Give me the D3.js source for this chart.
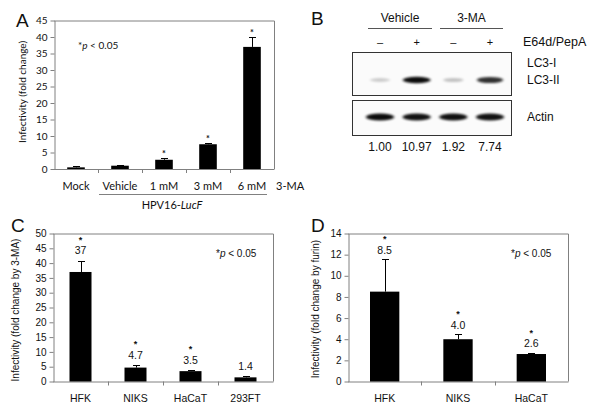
<!DOCTYPE html>
<html>
<head>
<meta charset="utf-8">
<title>infectivity</title>
<style>
  body { margin: 0; background: #fff; }
  svg text { fill: #111; }
  .ax path, .ax line { stroke: #808080; }
  .frame { fill: none; stroke: #808080; stroke-width: 1; }
  .bar { fill: #000; }
  .err { stroke: #000; stroke-width: 1; fill: none; }
</style>
</head>
<body>
<svg id="fig" width="600" height="411"></svg>
<script src="https://cdn.jsdelivr.net/npm/d3@7"></script>
<script>
// ---- panel A data
var catsA = ['Mock', 'Vehicle', '1 mM', '3 mM', '6 mM'];
var valsA = [0.5, 1.0, 2.8, 7.5, 37.0];
var errA = [0.3, 0.2, 0.6, 0.3, 3.0];
var starA = [false, false, true, true, true];
var ticksA = [0, 5, 10, 15, 20, 25, 30, 35, 40, 45];

// ---- panel B data
var lanesB = ['veh-', 'veh+', 'ma-', 'ma+'];
var signsB = ['\u2013', '+', '\u2013', '+'];
var lc3B = [0.18, 0.95, 0.22, 0.8];
var actinB = [0.95, 0.92, 0.93, 0.92];
var ratioB = ['1.00', '10.97', '1.92', '7.74'];

// ---- panel C data
var catsC = ['HFK', 'NIKS', 'HaCaT', '293FT'];
var valsC = [37, 4.7, 3.5, 1.4];
var errC = [3.8, 0.8, 0.4, 0.4];
var labC = ['37', '4.7', '3.5', '1.4'];
var starC = [true, true, true, false];
var ticksC = [0, 5, 10, 15, 20, 25, 30, 35, 40, 45, 50];

// ---- panel D data
var catsD = ['HFK', 'NIKS', 'HaCaT'];
var valsD = [8.5, 4.0, 2.6];
var errD = [3.1, 0.5, 0.12];
var labD = ['8.5', '4.0', '2.6'];
var starD = [true, true, true];
var ticksD = [0, 2, 4, 6, 8, 10, 12, 14];

var svg = d3.select('#fig');

function barPanel(o) {
    var g = svg.append('g').style('font-family', o.font);
    var y = d3.scaleLinear().domain([0, o.max]).range([o.bottom, o.top]);
    var x = d3.scaleBand().domain(o.cats).range([o.left, o.right])
        .paddingInner(o.pad).paddingOuter(o.pad / 2);
    var rows = o.cats.map(function(c, i) {
        return {c: c, v: o.vals[i], e: o.errs[i], s: o.stars[i], l: o.labels ? o.labels[i] : null};
    });

    // frame (top + right)
    g.append('path').attr('class', 'frame')
        .attr('d', 'M' + o.left + ',' + (o.top + 0.5) + 'H' + (o.right + 0.5) + 'V' + o.bottom);

    // y axis
    g.append('g').attr('class', 'ax')
        .attr('transform', 'translate(' + (o.left + 0.5) + ',0)')
        .call(d3.axisLeft(y).tickValues(o.ticks).tickSize(4).tickSizeOuter(0).tickPadding(3))
        .selectAll('text').style('font-size', o.tickSize + 'px').style('font-family', o.font).attr('fill', '#111');

    // x axis baseline + separators
    g.append('line').attr('class', 'ax')
        .attr('x1', o.left).attr('x2', o.right + 0.5)
        .attr('y1', o.bottom + 0.5).attr('y2', o.bottom + 0.5).attr('stroke', '#808080');
    var seps = d3.range(1, o.cats.length).map(function(i) { return x.range()[0] + i * x.step(); });
    g.selectAll('.sep').data(seps).enter().append('line')
        .attr('x1', function(d) { return Math.round(d) + 0.5; })
        .attr('x2', function(d) { return Math.round(d) + 0.5; })
        .attr('y1', o.bottom).attr('y2', o.bottom + 4).attr('stroke', '#808080');

    // bars
    g.selectAll('.bar').data(rows).enter().append('rect').attr('class', 'bar')
        .attr('x', function(d) { return x(d.c); })
        .attr('width', x.bandwidth())
        .attr('y', function(d) { return y(d.v); })
        .attr('height', function(d) { return o.bottom - y(d.v); });

    // error bars (upper only)
    g.selectAll('.err').data(rows).enter().append('path').attr('class', 'err')
        .attr('d', function(d) {
            var cx = Math.round(x(d.c) + x.bandwidth() / 2) + 0.5;
            var t = Math.round(y(d.v + d.e)) + 0.5;
            return 'M' + cx + ',' + y(d.v) + 'V' + t + 'M' + (cx - 3.5) + ',' + t + 'H' + (cx + 3.5);
        });

    // value labels and stars
    rows.forEach(function(d) {
        var cx = x(d.c) + x.bandwidth() / 2;
        var t = y(d.v + d.e);
        var ly = t - o.labGap;
        if (d.l) {
            g.append('text').attr('x', cx).attr('y', ly).attr('dy', '0.35em')
                .attr('text-anchor', 'middle').style('font-size', o.labSize + 'px').text(d.l);
        }
        if (d.s) {
            g.append('text').attr('x', cx).attr('y', d.l ? ly - 8 : t - 1)
                .attr('text-anchor', 'middle').style('font-weight', 'bold')
                .style('font-size', '9px').text('*');
        }
    });

    // category labels
    g.selectAll('.cat').data(o.cats).enter().append('text')
        .attr('x', function(d) { return x(d) + x.bandwidth() / 2; })
        .attr('y', o.catY).attr('dy', '0.35em').attr('text-anchor', 'middle')
        .style('font-size', o.catSize + 'px').text(function(d) { return d; });

    // y title
    g.append('text')
        .attr('transform', 'translate(' + o.titleX + ',' + o.titleY + ') rotate(-90)')
        .attr('text-anchor', 'middle').attr('dy', '0.35em')
        .style('font-size', o.titleSize + 'px').text(o.title);

    // significance note
    var note = g.append('text').attr('x', o.noteX).attr('y', o.noteY).attr('dy', '0.35em')
        .style('font-size', o.noteSize + 'px');
    note.append('tspan').text('*');
    note.append('tspan').style('font-style', 'italic').text('p');
    note.append('tspan').text(' < 0.05');

    // panel letter
    g.append('text').attr('x', o.letterX).attr('y', o.letterY)
        .style('font-size', '19px').style('font-family', 'Liberation Sans, Arial, sans-serif')
        .text(o.letter);
    return {g: g, x: x, y: y};
}

// ---- A
var pa = barPanel({
    font: 'Lato, "Open Sans", sans-serif', cats: catsA, vals: valsA, errs: errA, stars: starA,
    labels: null, ticks: ticksA, max: 45, left: 54, right: 274, top: 20.5, bottom: 169,
    pad: 0.6, tickSize: 10, labSize: 9, labGap: 0, catSize: 11, catY: 186,
    title: 'Infectivity (fold change)', titleX: 22, titleY: 92, titleSize: 10,
    noteX: 78, noteY: 45, noteSize: 10, letter: 'A', letterX: 16, letterY: 27
});
pa.g.append('line').attr('x1', 99).attr('x2', 267).attr('y1', 194.5).attr('y2', 194.5)
    .attr('stroke', '#808080');
var hpv = pa.g.append('text').attr('x', 172).attr('y', 205).attr('dy', '0.35em')
    .attr('text-anchor', 'middle').style('font-size', '11px');
hpv.append('tspan').text('HPV16-');
hpv.append('tspan').style('font-style', 'italic').text('LucF');
pa.g.append('text').attr('x', 276).attr('y', 186).attr('dy', '0.35em')
    .style('font-size', '11px').text('3-MA');

// ---- C
barPanel({
    font: '"Liberation Sans", Arial, sans-serif', cats: catsC, vals: valsC, errs: errC, stars: starC,
    labels: labC, ticks: ticksC, max: 50, left: 53, right: 273, top: 233.5, bottom: 381.5,
    pad: 0.6, tickSize: 10, labSize: 10.5, labGap: 10, catSize: 10.5, catY: 398,
    title: 'Infectivity (fold change by 3-MA)', titleX: 15, titleY: 310, titleSize: 10,
    noteX: 216, noteY: 253, noteSize: 10, letter: 'C', letterX: 11, letterY: 232
});

// ---- D
barPanel({
    font: '"Liberation Sans", Arial, sans-serif', cats: catsD, vals: valsD, errs: errD, stars: starD,
    labels: labD, ticks: ticksD, max: 14, left: 348, right: 568, top: 233.5, bottom: 381.5,
    pad: 0.6, tickSize: 10, labSize: 10.5, labGap: 9, catSize: 10.5, catY: 398,
    title: 'Infectivity (fold change by furin)', titleX: 315, titleY: 309, titleSize: 10,
    noteX: 511, noteY: 253, noteSize: 10, letter: 'D', letterX: 311, letterY: 232
});

// ---- B  western blot
var gb = svg.append('g').style('font-family', '"Liberation Sans", Arial, sans-serif');
var defs = svg.append('defs');
defs.append('filter').attr('id', 'blur').attr('x', '-50%').attr('y', '-100%')
    .attr('width', '200%').attr('height', '300%')
    .append('feGaussianBlur').attr('stdDeviation', '1.6 1.2');
var lane = d3.scalePoint().domain(lanesB).range([380, 490]);

gb.append('text').attr('x', 311).attr('y', 25).style('font-size', '19px').text('B');
[['Vehicle', 368, 432], ['3-MA', 440, 503]].forEach(function(h) {
    gb.append('text').attr('x', (h[1] + h[2]) / 2).attr('y', 18).attr('dy', '0.35em')
        .attr('text-anchor', 'middle').style('font-size', '12px').text(h[0]);
    gb.append('line').attr('x1', h[1]).attr('x2', h[2]).attr('y1', 28.5).attr('y2', 28.5)
        .attr('stroke', '#555');
});
gb.selectAll('.sign').data(lanesB).enter().append('text')
    .attr('x', function(d) { return lane(d); }).attr('y', 42).attr('dy', '0.35em')
    .attr('text-anchor', 'middle').style('font-size', '11px')
    .text(function(d, i) { return signsB[i]; });
gb.append('text').attr('x', 523).attr('y', 42).attr('dy', '0.35em')
    .style('font-size', '12.5px').text('E64d/PepA');

// blot boxes
gb.append('rect').attr('x', 352.5).attr('y', 52.5).attr('width', 159).attr('height', 43)
    .attr('fill', '#fbfbfb').attr('stroke', '#333');
gb.append('rect').attr('x', 352.5).attr('y', 100.5).attr('width', 159).attr('height', 35)
    .attr('fill', '#fbfbfb').attr('stroke', '#333');

// LC3-II bands
gb.selectAll('.lc3').data(lanesB).enter().append('ellipse')
    .attr('cx', function(d) { return lane(d); }).attr('cy', 80)
    .attr('rx', function(d, i) { return 9 + lc3B[i] * 5; })
    .attr('ry', function(d, i) { return 1.6 + lc3B[i] * 1.8; })
    .attr('fill', '#000').attr('opacity', function(d, i) { return lc3B[i]; })
    .attr('filter', 'url(#blur)');
// actin bands
gb.selectAll('.actin').data(lanesB).enter().append('ellipse')
    .attr('cx', function(d) { return lane(d); }).attr('cy', 117)
    .attr('rx', 14).attr('ry', 3.6)
    .attr('fill', '#000').attr('opacity', function(d, i) { return actinB[i]; })
    .attr('filter', 'url(#blur)');

[['LC3-I', 63], ['LC3-II', 80], ['Actin', 117]].forEach(function(l) {
    gb.append('text').attr('x', 527).attr('y', l[1]).attr('dy', '0.35em')
        .style('font-size', '12px').text(l[0]);
});
gb.selectAll('.ratio').data(lanesB).enter().append('text')
    .attr('x', function(d) { return lane(d); }).attr('y', 147).attr('dy', '0.35em')
    .attr('text-anchor', 'middle').style('font-size', '12px')
    .text(function(d, i) { return ratioB[i]; });
</script>
</body>
</html>
